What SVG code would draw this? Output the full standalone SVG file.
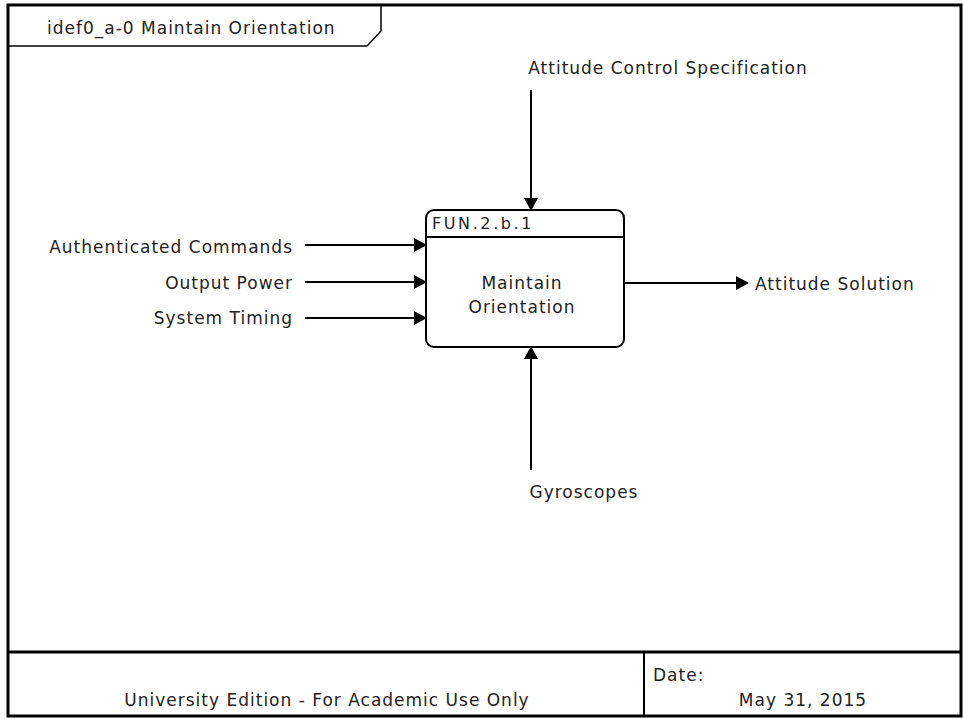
<svg xmlns="http://www.w3.org/2000/svg" width="964" height="719" viewBox="0 0 964 719">
<style>
text{font-family:"DejaVu Sans","Liberation Sans",sans-serif;font-size:17px;letter-spacing:1px;fill:#222}
.bx{font-size:16px;letter-spacing:2.6px}
.ln{stroke:#000;stroke-width:2;fill:none}
.fr{stroke:#000;fill:none}
</style>
<defs>
<marker id="ah" markerWidth="14" markerHeight="14" refX="12" refY="7" orient="auto" markerUnits="userSpaceOnUse">
<path d="M0,0 L13,7 L0,14 Z" fill="#000"/>
</marker>
</defs>
<rect width="964" height="719" fill="#fff"/>
<g id="frame">
<rect x="8" y="5" width="953" height="711" class="fr" stroke-width="3"/>
<line x1="8" y1="652" x2="961" y2="652" class="fr" stroke-width="3"/>
<line x1="644" y1="652" x2="644" y2="716" class="fr" stroke-width="2"/>
<path d="M8,46 L367,46 L381,31 L381,5" class="fr" stroke-width="1.5"/>
<text x="47" y="34">idef0_a-0 Maintain Orientation</text>
<text x="327" y="706" text-anchor="middle">University Edition - For Academic Use Only</text>
<text x="653" y="681">Date:</text>
<text x="803" y="706" text-anchor="middle">May 31, 2015</text>
</g>
<g id="node-fun2b1">
<rect x="426" y="210" width="198" height="137" rx="8" ry="8" fill="#fff" stroke="#000" stroke-width="2"/>
<line x1="426" y1="237" x2="624" y2="237" stroke="#000" stroke-width="2"/>
<text x="432" y="229" class="bx">FUN.2.b.1</text>
<text x="522" y="289" text-anchor="middle">Maintain</text>
<text x="522" y="313" text-anchor="middle">Orientation</text>
</g>
<g id="connectors">
<line x1="531" y1="90" x2="531" y2="210" class="ln" marker-end="url(#ah)"/>
<line x1="305" y1="245" x2="426" y2="245" class="ln" marker-end="url(#ah)"/>
<line x1="305" y1="282" x2="426" y2="282" class="ln" marker-end="url(#ah)"/>
<line x1="305" y1="318" x2="426" y2="318" class="ln" marker-end="url(#ah)"/>
<line x1="624" y1="283" x2="748" y2="283" class="ln" marker-end="url(#ah)"/>
<line x1="531" y1="470" x2="531" y2="347" class="ln" marker-end="url(#ah)"/>
</g>
<g id="labels">
<text x="668" y="74" text-anchor="middle">Attitude Control Specification</text>
<text x="293" y="253" text-anchor="end">Authenticated Commands</text>
<text x="293" y="289" text-anchor="end">Output Power</text>
<text x="293" y="324" text-anchor="end">System Timing</text>
<text x="755" y="290">Attitude Solution</text>
<text x="584" y="498" text-anchor="middle">Gyroscopes</text>
</g>
</svg>
